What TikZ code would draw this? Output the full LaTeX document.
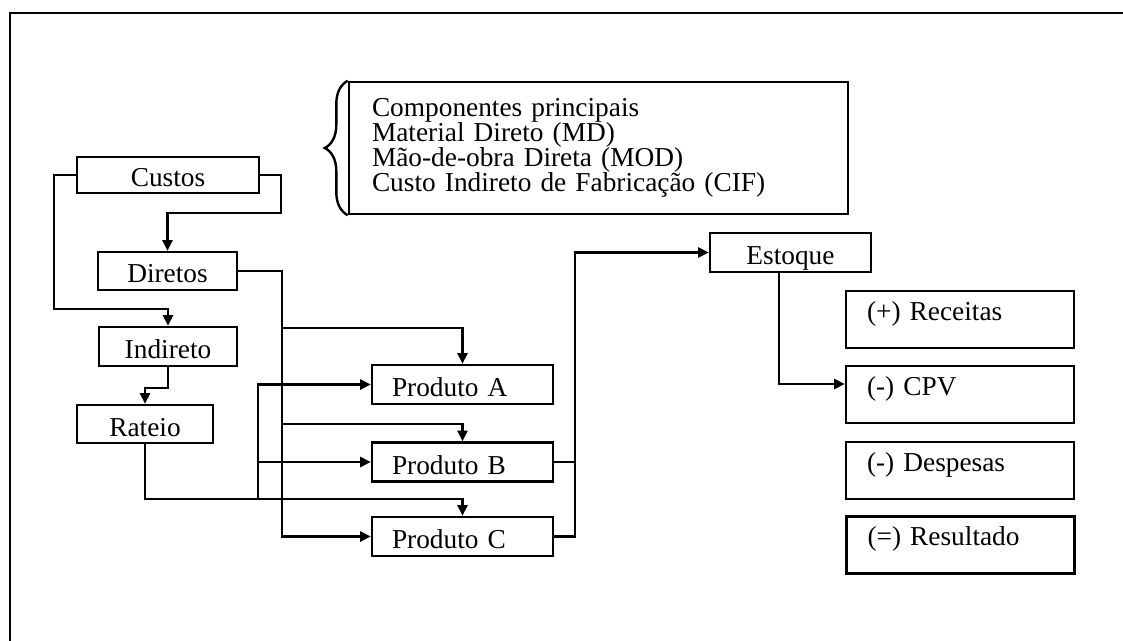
\documentclass[tikz,border=0pt]{standalone}
\usepackage{fontspec}
\setmainfont{Liberation Serif}
\usetikzlibrary{arrows.meta,decorations.pathreplacing,calc}
\def\pu{0.75pt}
\begin{document}
\begin{tikzpicture}[x=0.75pt,y=-0.75pt,
  ln/.style={line width=1.8pt},
  arr/.style={line width=1.8pt,-{Triangle[length=8pt,width=7.5pt]}},
  box/.style={draw,line width=1.8pt,font=\fontsize{20.5}{19}\selectfont,inner sep=2pt},
  sbox/.style={box,text height=18pt,text depth=0pt},
  rbox/.style={box,align=left,text width=186*\pu,inner xsep=21*\pu,minimum height=57*\pu,text height=15pt,text depth=13.8pt},
  pbox/.style={sbox,align=left,text width=141*\pu,inner xsep=20*\pu,minimum height=39*\pu}
]
\useasboundingbox (0,0) rectangle (1123,641);
\draw[line width=2.2pt] (10,641) -- (10,13) -- (1123,13);

% component box with brace
\node[box,align=left,text width=453*\pu,inner xsep=23*\pu,minimum height=132*\pu,
  font=\fontsize{20.5}{18.6}\selectfont] (comp) at (598.5,148)
  {Componentes principais\\Material Direto (MD)\\Mão-de-obra Direta (MOD)\\Custo Indireto de Fabricação (CIF)};
\draw[ln,decorate,decoration={brace,amplitude=17.25pt}] (comp.south west) -- (comp.north west);

% left column
\node[sbox,minimum width=182*\pu,minimum height=36*\pu] (custos) at (168,175) {Custos};
\node[sbox,minimum width=139*\pu,minimum height=38*\pu] (diretos) at (167.5,271) {Diretos};
\node[sbox,minimum width=138*\pu,minimum height=39*\pu] (indireto) at (168,346.5) {Indireto};
\node[sbox,minimum width=136*\pu,minimum height=38*\pu] (rateio) at (145,424) {Rateio};

% products
\node[pbox] (prodA) at (462.5,384.5) {Produto A};
\node[pbox] (prodB) at (462.5,462) {Produto B};
\node[pbox] (prodC) at (462.5,536.5) {Produto C};

% stock
\node[sbox,minimum width=161*\pu,minimum height=39*\pu] (estoque) at (790.5,252.5) {Estoque};

% result boxes
\node[rbox] (receitas) at (960,319.5) {(+) Receitas};
\node[rbox] (cpv) at (960,394.5) {(-) CPV};
\node[rbox] (despesas) at (960,470.5) {(-) Despesas};
\node[rbox] (resultado) at (960.5,545) {(=) Resultado};

% connectors
\draw[arr] (custos.west) -| (54,309) -| (indireto.north);
\draw[arr] (custos.east) -| (281,213) -| (diretos.north);
\draw[arr] (diretos.east) -| (282,536.5) -- (prodC.west);
\draw[arr] (282,328) -| (prodA.north);
\draw[arr] (282,424) -| (prodB.north);
\draw[arr] (indireto.south) -- ++(0,21) -| (rateio.north);
\draw[arr] (rateio.south) -- (145,499) -| (prodC.north);
\draw[arr] (258,499) |- (prodA.west);
\draw[arr] (258,462) -- (prodB.west);
\draw[ln] (prodB.east) -- (575,462);
\draw[arr] (prodC.east) -- (575,536.5) |- (estoque.west);
\draw[arr] ([xshift=-11.5*\pu]estoque.south) |- ([yshift=10.5*\pu]cpv.west);
\end{tikzpicture}
\end{document}
